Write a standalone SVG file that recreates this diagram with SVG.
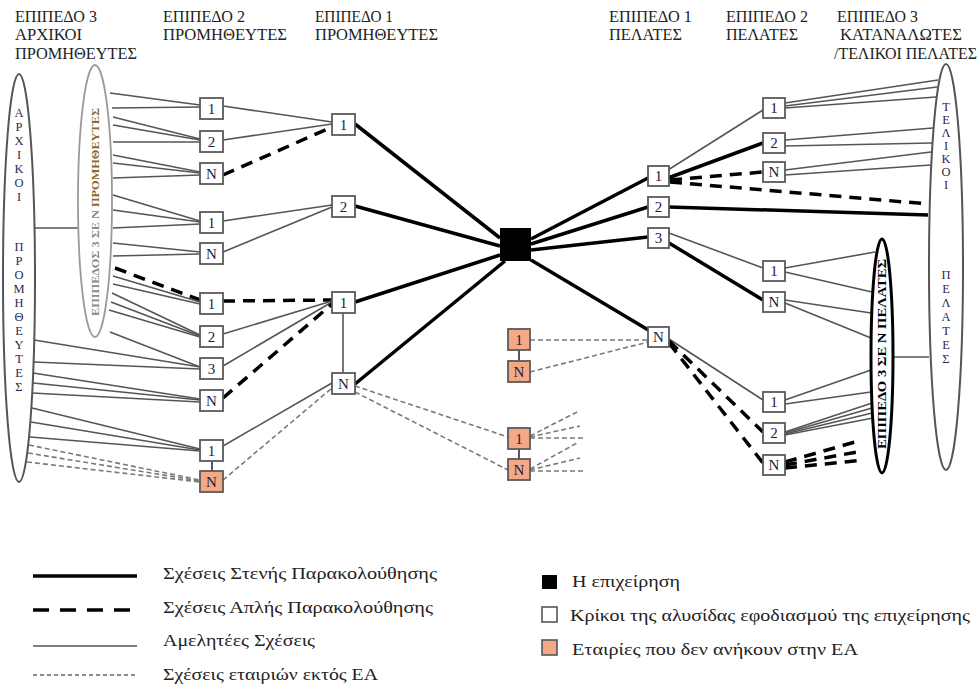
<svg xmlns="http://www.w3.org/2000/svg" width="980" height="686" viewBox="0 0 980 686">
<style>
text{font-family:"Liberation Serif","DejaVu Serif",serif}
.hdr{font-size:16px;fill:#222}
.box{fill:#fff;stroke:#5a5a5a;stroke-width:1.8}
.org{fill:#F4A886;stroke:#5a5a5a;stroke-width:1.8}
.num{font-size:15px;fill:#1c1c40;text-anchor:middle}
.thin{stroke:#555;stroke-width:1.6;fill:none}
.strong{stroke:#000;stroke-width:3.5;fill:none}
.dash{stroke:#000;stroke-width:3.5;stroke-dasharray:12 8;fill:none}
.ext{stroke:#7a7a7a;stroke-width:1.6;stroke-dasharray:5 3;fill:none}
.link{stroke:#2a2a55;stroke-width:1.6}
.vl{font-size:12.5px;fill:#33264f;text-anchor:middle}
.leg{font-size:17px;fill:#222}
</style>
<rect width="980" height="686" fill="#fff"/>

<!-- headers -->
<g id="headers" class="hdr">
<text x="15" y="22" textLength="82" lengthAdjust="spacingAndGlyphs">ΕΠΙΠΕΔΟ 3</text>
<text x="15" y="40" textLength="67" lengthAdjust="spacingAndGlyphs">ΑΡΧΙΚΟΙ</text>
<text x="15" y="59" textLength="122" lengthAdjust="spacingAndGlyphs">ΠΡΟΜΗΘΕΥΤΕΣ</text>
<text x="163" y="22" textLength="82" lengthAdjust="spacingAndGlyphs">ΕΠΙΠΕΔΟ 2</text>
<text x="163" y="40" textLength="124" lengthAdjust="spacingAndGlyphs">ΠΡΟΜΗΘΕΥΤΕΣ</text>
<text x="315" y="22" textLength="78" lengthAdjust="spacingAndGlyphs">ΕΠΙΠΕΔΟ 1</text>
<text x="315" y="40" textLength="123" lengthAdjust="spacingAndGlyphs">ΠΡΟΜΗΘΕΥΤΕΣ</text>
<text x="609" y="22" textLength="83" lengthAdjust="spacingAndGlyphs">ΕΠΙΠΕΔΟ 1</text>
<text x="609" y="40" textLength="73" lengthAdjust="spacingAndGlyphs">ΠΕΛΑΤΕΣ</text>
<text x="726" y="22" textLength="82" lengthAdjust="spacingAndGlyphs">ΕΠΙΠΕΔΟ 2</text>
<text x="726" y="40" textLength="72" lengthAdjust="spacingAndGlyphs">ΠΕΛΑΤΕΣ</text>
<text x="837" y="22" textLength="81" lengthAdjust="spacingAndGlyphs">ΕΠΙΠΕΔΟ 3</text>
<text x="840" y="40" textLength="122" lengthAdjust="spacingAndGlyphs">ΚΑΤΑΝΑΛΩΤΕΣ</text>
<text x="834" y="59" textLength="143" lengthAdjust="spacingAndGlyphs">/ΤΕΛΙΚΟΙ ΠΕΛΑΤΕΣ</text>
</g>

<!-- connectors -->
<g id="connectors">
<line class="thin" x1="35" y1="228" x2="80" y2="228"/>
<line class="thin" x1="110" y1="93" x2="200" y2="105"/>
<line class="thin" x1="112" y1="108" x2="200" y2="107"/>
<line class="thin" x1="113" y1="117" x2="200" y2="139"/>
<line class="thin" x1="113" y1="125" x2="200" y2="140"/>
<line class="thin" x1="113" y1="142" x2="200" y2="142"/>
<line class="thin" x1="113" y1="155" x2="200" y2="172"/>
<line class="thin" x1="113" y1="163" x2="200" y2="173"/>
<line class="thin" x1="113" y1="178" x2="200" y2="175"/>
<line class="thin" x1="113" y1="195" x2="200" y2="221"/>
<line class="thin" x1="113" y1="210" x2="200" y2="222"/>
<line class="thin" x1="113" y1="228" x2="200" y2="224"/>
<line class="thin" x1="113" y1="243" x2="200" y2="252"/>
<line class="thin" x1="113" y1="256" x2="200" y2="254"/>
<line class="dash" x1="115" y1="268" x2="200" y2="300"/>
<line class="thin" x1="113" y1="276" x2="200" y2="302"/>
<line class="thin" x1="113" y1="284" x2="200" y2="304"/>
<line class="thin" x1="112" y1="293" x2="200" y2="335"/>
<line class="thin" x1="111" y1="302" x2="200" y2="336"/>
<line class="thin" x1="109" y1="310" x2="200" y2="337"/>
<line class="thin" x1="110" y1="332" x2="200" y2="367"/>
<line class="thin" x1="34" y1="340" x2="200" y2="367"/>
<line class="thin" x1="34" y1="362" x2="200" y2="369"/>
<line class="thin" x1="33" y1="373" x2="200" y2="399"/>
<line class="thin" x1="33" y1="383" x2="200" y2="400"/>
<line class="thin" x1="32" y1="393" x2="200" y2="402"/>
<line class="thin" x1="32" y1="408" x2="200" y2="449"/>
<line class="thin" x1="31" y1="422" x2="200" y2="450"/>
<line class="thin" x1="30" y1="437" x2="200" y2="451"/>
<line class="ext" x1="29" y1="445" x2="200" y2="480"/>
<line class="ext" x1="28" y1="453" x2="200" y2="481"/>
<line class="ext" x1="27" y1="462" x2="200" y2="482"/>
<line class="thin" x1="223" y1="106" x2="332" y2="122"/>
<line class="thin" x1="223" y1="140" x2="332" y2="124"/>
<line class="dash" x1="223" y1="175" x2="332" y2="127"/>
<line class="thin" x1="223" y1="221" x2="332" y2="205"/>
<line class="thin" x1="223" y1="252" x2="332" y2="207"/>
<line class="dash" x1="223" y1="301" x2="332" y2="300"/>
<line class="thin" x1="223" y1="334" x2="332" y2="301"/>
<line class="thin" x1="223" y1="366" x2="332" y2="302"/>
<line class="dash" x1="223" y1="398" x2="332" y2="304"/>
<line class="thin" x1="223" y1="446" x2="332" y2="383"/>
<line class="ext" x1="223" y1="480" x2="332" y2="388"/>
<line class="link" x1="212" y1="461" x2="212" y2="471"/>
<line class="thin" x1="343" y1="313" x2="343" y2="373"/>
<line class="strong" x1="355" y1="124" x2="500" y2="238"/>
<line class="strong" x1="355" y1="206" x2="500" y2="246"/>
<line class="strong" x1="355" y1="302" x2="500" y2="255"/>
<line class="strong" x1="355" y1="384" x2="505" y2="261"/>
<line class="ext" x1="355" y1="386" x2="508" y2="437"/>
<line class="ext" x1="355" y1="392" x2="508" y2="470"/>
<line class="ext" x1="530" y1="436" x2="577" y2="412"/>
<line class="ext" x1="530" y1="437" x2="580" y2="426"/>
<line class="ext" x1="530" y1="438" x2="584" y2="438"/>
<line class="ext" x1="530" y1="469" x2="577" y2="443"/>
<line class="ext" x1="530" y1="470" x2="580" y2="458"/>
<line class="ext" x1="530" y1="471" x2="584" y2="471"/>
<line class="ext" x1="530" y1="340" x2="648" y2="340"/>
<line class="ext" x1="530" y1="372" x2="648" y2="342"/>
<line class="link" x1="519" y1="350" x2="519" y2="361"/>
<line class="link" x1="519" y1="449" x2="519" y2="459"/>
<line class="strong" x1="531" y1="239" x2="648" y2="178"/>
<line class="strong" x1="531" y1="244" x2="648" y2="207"/>
<line class="strong" x1="531" y1="250" x2="648" y2="237"/>
<line class="strong" x1="531" y1="260" x2="650" y2="331"/>
<line class="thin" x1="668" y1="170" x2="763" y2="110"/>
<line class="strong" x1="668" y1="178" x2="763" y2="143"/>
<line class="dash" x1="670" y1="180" x2="763" y2="172"/>
<line class="dash" x1="670" y1="182" x2="929" y2="204"/>
<line class="strong" x1="669" y1="207" x2="928" y2="215"/>
<line class="thin" x1="669" y1="233" x2="763" y2="268"/>
<line class="strong" x1="669" y1="243" x2="763" y2="300"/>
<line class="thin" x1="669" y1="339" x2="763" y2="400"/>
<line class="dash" x1="669" y1="341" x2="763" y2="432"/>
<line class="dash" x1="669" y1="343" x2="763" y2="463"/>
<line class="thin" x1="785" y1="103" x2="938" y2="80"/>
<line class="thin" x1="785" y1="106" x2="937" y2="87"/>
<line class="thin" x1="785" y1="108" x2="936" y2="97"/>
<line class="thin" x1="785" y1="140" x2="933" y2="128"/>
<line class="thin" x1="785" y1="146" x2="932" y2="143"/>
<line class="thin" x1="785" y1="170" x2="931" y2="152"/>
<line class="thin" x1="785" y1="175" x2="931" y2="165"/>
<line class="thin" x1="785" y1="268" x2="875" y2="252"/>
<line class="thin" x1="785" y1="272" x2="872" y2="292"/>
<line class="thin" x1="785" y1="300" x2="871" y2="313"/>
<line class="thin" x1="785" y1="303" x2="871" y2="338"/>
<line class="thin" x1="785" y1="400" x2="871" y2="370"/>
<line class="thin" x1="785" y1="404" x2="871" y2="392"/>
<line class="thin" x1="785" y1="432" x2="872" y2="403"/>
<line class="thin" x1="785" y1="433" x2="872" y2="408"/>
<line class="thin" x1="785" y1="434" x2="872" y2="413"/>
<line class="thin" x1="785" y1="435" x2="873" y2="418"/>
<line class="dash" x1="785" y1="462" x2="862" y2="440"/>
<line class="dash" x1="785" y1="465" x2="863" y2="451"/>
<line class="dash" x1="785" y1="468" x2="864" y2="460"/>
<line class="thin" x1="893" y1="357" x2="929" y2="357"/>
</g>

<g id="initial-suppliers">
<ellipse cx="19" cy="278" rx="16" ry="204" fill="#fff" stroke="#555" stroke-width="2"/>
<text class="vl"><tspan x="19" y="117">Α</tspan><tspan x="19" y="131">Ρ</tspan><tspan x="19" y="145">Χ</tspan><tspan x="19" y="159">Ι</tspan><tspan x="19" y="173">Κ</tspan><tspan x="19" y="187">Ο</tspan><tspan x="19" y="201">Ι</tspan></text>
<text class="vl"><tspan x="19" y="251">Π</tspan><tspan x="19" y="265">Ρ</tspan><tspan x="19" y="279">Ο</tspan><tspan x="19" y="293">Μ</tspan><tspan x="19" y="307">Η</tspan><tspan x="19" y="321">Θ</tspan><tspan x="19" y="335">Ε</tspan><tspan x="19" y="349">Υ</tspan><tspan x="19" y="363">Τ</tspan><tspan x="19" y="377">Ε</tspan><tspan x="19" y="391">Σ</tspan></text>
</g>
<g id="tier3-suppliers">
<ellipse cx="95" cy="201" rx="17" ry="136" fill="#fff" stroke="#9a9a9a" stroke-width="1.8"/>
<text transform="translate(99 212) rotate(-90)" text-anchor="middle" font-size="11" font-weight="bold" fill="#8a8a8a" textLength="208" lengthAdjust="spacingAndGlyphs">ΕΠΙΠΕΔΟΣ 3 ΣΕ Ν <tspan fill="#8a6a2a">ΠΡΟΜΗΘΕΥΤΕΣ</tspan></text>
</g>

<g id="s2a"><rect class="box" x="200" y="98" width="23" height="21"/><text class="num" x="211.5" y="114">1</text></g>
<g id="s2b"><rect class="box" x="200" y="131" width="23" height="21"/><text class="num" x="211.5" y="147">2</text></g>
<g id="s2c"><rect class="box" x="200" y="163" width="23" height="21"/><text class="num" x="211.5" y="179">N</text></g>
<g id="s2d"><rect class="box" x="200" y="212" width="23" height="21"/><text class="num" x="211.5" y="228">1</text></g>
<g id="s2e"><rect class="box" x="200" y="243" width="23" height="21"/><text class="num" x="211.5" y="259">N</text></g>
<g id="s2f"><rect class="box" x="200" y="293" width="23" height="21"/><text class="num" x="211.5" y="309">1</text></g>
<g id="s2g"><rect class="box" x="200" y="326" width="23" height="21"/><text class="num" x="211.5" y="342">2</text></g>
<g id="s2h"><rect class="box" x="200" y="358" width="23" height="21"/><text class="num" x="211.5" y="374">3</text></g>
<g id="s2i"><rect class="box" x="200" y="390" width="23" height="21"/><text class="num" x="211.5" y="406">N</text></g>
<g id="s2j"><rect class="box" x="200" y="440" width="23" height="21"/><text class="num" x="211.5" y="456">1</text></g>
<g id="s2k"><rect class="org" x="200" y="471" width="23" height="21"/><text class="num" x="211.5" y="487">N</text></g>

<g id="s1a"><rect class="box" x="332" y="114" width="23" height="21"/><text class="num" x="343.5" y="130">1</text></g>
<g id="s1b"><rect class="box" x="332" y="196" width="23" height="21"/><text class="num" x="343.5" y="212">2</text></g>
<g id="s1c"><rect class="box" x="332" y="292" width="23" height="21"/><text class="num" x="343.5" y="308">1</text></g>
<g id="s1d"><rect class="box" x="332" y="373" width="23" height="21"/><text class="num" x="343.5" y="389">N</text></g>

<g id="company"><rect x="500" y="228" width="31" height="33" fill="#000"/></g>

<g id="o1"><rect class="org" x="508" y="329" width="22" height="21"/><text class="num" x="519" y="345">1</text></g>
<g id="o2"><rect class="org" x="508" y="361" width="22" height="21"/><text class="num" x="519" y="377">N</text></g>
<g id="o3"><rect class="org" x="508" y="428" width="22" height="21"/><text class="num" x="519" y="444">1</text></g>
<g id="o4"><rect class="org" x="508" y="459" width="22" height="21"/><text class="num" x="519" y="475">N</text></g>

<g id="c1a"><rect class="box" x="648" y="166" width="21" height="20"/><text class="num" x="658.5" y="181">1</text></g>
<g id="c1b"><rect class="box" x="648" y="197" width="21" height="20"/><text class="num" x="658.5" y="212">2</text></g>
<g id="c1c"><rect class="box" x="648" y="228" width="21" height="20"/><text class="num" x="658.5" y="243">3</text></g>
<g id="c1d"><rect class="box" x="648" y="327" width="21" height="20"/><text class="num" x="658.5" y="342">N</text></g>

<g id="c2a"><rect class="box" x="763" y="98" width="22" height="20"/><text class="num" x="774" y="113">1</text></g>
<g id="c2b"><rect class="box" x="763" y="133" width="22" height="20"/><text class="num" x="774" y="148">2</text></g>
<g id="c2c"><rect class="box" x="763" y="162" width="22" height="20"/><text class="num" x="774" y="177">N</text></g>
<g id="c2d"><rect class="box" x="763" y="261" width="22" height="20"/><text class="num" x="774" y="276">1</text></g>
<g id="c2e"><rect class="box" x="763" y="292" width="22" height="20"/><text class="num" x="774" y="307">N</text></g>
<g id="c2f"><rect class="box" x="763" y="392" width="22" height="20"/><text class="num" x="774" y="407">1</text></g>
<g id="c2g"><rect class="box" x="763" y="423" width="22" height="20"/><text class="num" x="774" y="438">2</text></g>
<g id="c2h"><rect class="box" x="763" y="455" width="22" height="20"/><text class="num" x="774" y="470">N</text></g>

<g id="tier3-customers">
<ellipse cx="882" cy="356" rx="11" ry="117" fill="#fff" stroke="#000" stroke-width="3"/>
<text transform="translate(886 354) rotate(-90)" text-anchor="middle" font-size="11.5" font-weight="bold" fill="#000" textLength="190" lengthAdjust="spacingAndGlyphs">ΕΠΙΠΕΔΟ 3 ΣΕ Ν ΠΕΛΑΤΕΣ</text>
</g>
<g id="final-customers">
<ellipse cx="946" cy="267" rx="17" ry="203" fill="none" stroke="#555" stroke-width="2"/>
<text class="vl"><tspan x="946" y="111">Τ</tspan><tspan x="946" y="124">Ε</tspan><tspan x="946" y="137">Λ</tspan><tspan x="946" y="150">Ι</tspan><tspan x="946" y="163">Κ</tspan><tspan x="946" y="176">Ο</tspan><tspan x="946" y="189">Ι</tspan></text>
<text class="vl"><tspan x="946" y="279">Π</tspan><tspan x="946" y="293">Ε</tspan><tspan x="946" y="307">Λ</tspan><tspan x="946" y="321">Α</tspan><tspan x="946" y="335">Τ</tspan><tspan x="946" y="349">Ε</tspan><tspan x="946" y="363">Σ</tspan></text>
</g>

<g id="legend">
<line class="strong" x1="33" y1="576" x2="137" y2="576"/>
<line stroke="#000" stroke-width="3.5" stroke-dasharray="16 11" x1="33" y1="610" x2="137" y2="610"/>
<line class="thin" x1="33" y1="646" x2="137" y2="646"/>
<line stroke="#666" stroke-width="1.4" stroke-dasharray="4 3" x1="33" y1="675" x2="137" y2="675"/>
<text class="leg" x="163" y="579" textLength="274" lengthAdjust="spacingAndGlyphs">Σχέσεις Στενής Παρακολούθησης</text>
<text class="leg" x="163" y="613" textLength="270" lengthAdjust="spacingAndGlyphs">Σχέσεις Απλής Παρακολούθησης</text>
<text class="leg" x="163" y="646" textLength="152" lengthAdjust="spacingAndGlyphs">Αμελητέες Σχέσεις</text>
<text class="leg" x="163" y="680" textLength="215" lengthAdjust="spacingAndGlyphs">Σχέσεις εταιριών εκτός ΕΑ</text>
<rect x="542" y="575" width="15" height="14" fill="#000"/>
<rect x="542" y="607" width="15" height="15" fill="#fff" stroke="#555" stroke-width="1.6"/>
<rect x="542" y="640" width="15" height="15" fill="#F4A886" stroke="#555" stroke-width="1.6"/>
<text class="leg" x="572" y="587" textLength="108" lengthAdjust="spacingAndGlyphs">Η επιχείρηση</text>
<text class="leg" x="570" y="621" textLength="400" lengthAdjust="spacingAndGlyphs">Κρίκοι της αλυσίδας εφοδιασμού της επιχείρησης</text>
<text class="leg" x="572" y="655" textLength="286" lengthAdjust="spacingAndGlyphs">Εταιρίες που δεν ανήκουν στην ΕΑ</text>
</g>
</svg>
